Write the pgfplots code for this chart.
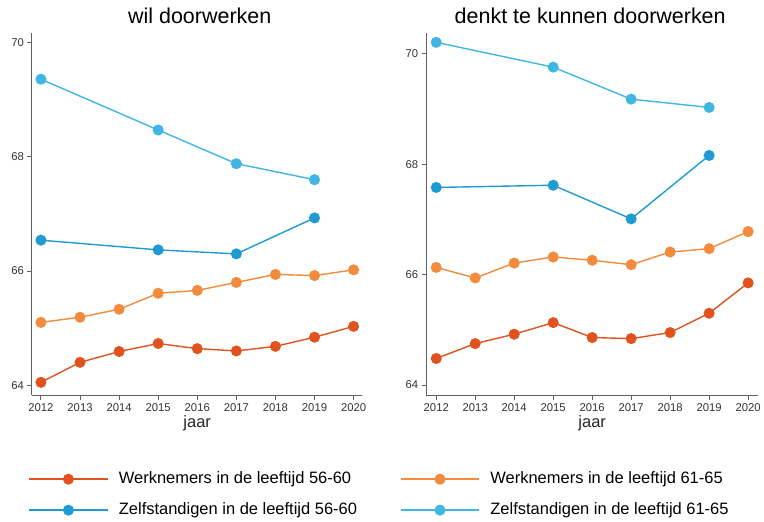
\documentclass[border=0pt]{standalone}
\usepackage{pgfplots}
\pgfplotsset{compat=1.18}
\usepackage{fontspec}
\setmainfont{Liberation Sans}
\definecolor{wA}{HTML}{E0531F}
\definecolor{wB}{HTML}{F28C3C}
\definecolor{zA}{HTML}{1E9BD2}
\definecolor{zB}{HTML}{40B6E3}
\definecolor{axgray}{HTML}{606060}
\pgfplotsset{
  myaxis/.style={
    scale only axis,
    anchor=south west,
    axis x line*=bottom, axis y line*=left,
    axis line style={draw=axgray, line width=1pt, -},
    tick style={draw=axgray, line width=0.9pt},
    tick align=outside,
    major tick length=4.5pt,
    xtick={2012,2013,...,2020},
    ytick={64,66,68,70},
    /pgf/number format/1000 sep={},
    /pgf/number format/assume math mode=true,
    ticklabel style={font=\fontsize{11.3}{12}\selectfont, text=black!80},
    every axis plot/.append style={line width=1.4pt, mark=*, mark size=4.8pt},
    legend style={draw=none, fill=none, font=\fontsize{16.5}{18}\selectfont,
      row sep=15pt, inner sep=0pt, outer sep=0pt,
      nodes={inner sep=0pt, text height=12pt, text depth=4pt},
      cells={anchor=west}, column sep=10pt},
    legend image code/.code={
      \draw[#1,mark=none, line width=2pt] (0pt,0pt) -- (79pt,0pt);
      \draw[#1, only marks] plot coordinates {(39.5pt,0pt)};
    },
  }
}
\begin{document}
\begin{tikzpicture}[x=1pt,y=1pt]
\path (0,0) rectangle (764,522);
% left panel
\begin{axis}[myaxis, at={(32pt,126pt)}, width=330.7pt, height=363pt,
  xmin=2011.77, xmax=2020.22, ymin=63.82, ymax=70.17,
  legend style={at={(axis description cs:-0.012,-0.209)}, anchor=north west}]
\addplot[color=wA, mark options={fill=wA, draw=wA}] coordinates {
 (2012,64.05) (2013,64.40) (2014,64.59) (2015,64.73) (2016,64.64)
 (2017,64.60) (2018,64.68) (2019,64.84) (2020,65.03)};
\addlegendentry{Werknemers in de leeftijd 56-60}
\addplot[color=wB, mark options={fill=wB, draw=wB}, forget plot] coordinates {
 (2012,65.10) (2013,65.19) (2014,65.33) (2015,65.61) (2016,65.66)
 (2017,65.80) (2018,65.94) (2019,65.92) (2020,66.02)};
\addplot[color=zA, mark options={fill=zA, draw=zA}] coordinates {
 (2012,66.54) (2015,66.37) (2017,66.30) (2019,66.93)};
\addlegendentry{Zelfstandigen in de leeftijd 56-60}
\addplot[color=zB, mark options={fill=zB, draw=zB}, forget plot] coordinates {
 (2012,69.36) (2015,68.47) (2017,67.88) (2019,67.60)};
\end{axis}
% right panel
\begin{axis}[myaxis, at={(426.7pt,126pt)}, width=332.6pt, height=363pt,
  xmin=2011.74, xmax=2020.26, ymin=63.81, ymax=70.38,
  legend style={at={(axis description cs:-0.08,-0.209)}, anchor=north west}]
\addplot[color=wA, mark options={fill=wA, draw=wA}, forget plot] coordinates {
 (2012,64.48) (2013,64.75) (2014,64.92) (2015,65.13) (2016,64.86)
 (2017,64.84) (2018,64.95) (2019,65.30) (2020,65.85)};
\addplot[color=wB, mark options={fill=wB, draw=wB}] coordinates {
 (2012,66.13) (2013,65.94) (2014,66.21) (2015,66.32) (2016,66.26)
 (2017,66.18) (2018,66.41) (2019,66.47) (2020,66.78)};
\addlegendentry{Werknemers in de leeftijd 61-65}
\addplot[color=zA, mark options={fill=zA, draw=zA}, forget plot] coordinates {
 (2012,67.58) (2015,67.62) (2017,67.01) (2019,68.16)};
\addplot[color=zB, mark options={fill=zB, draw=zB}] coordinates {
 (2012,70.21) (2015,69.76) (2017,69.18) (2019,69.03)};
\addlegendentry{Zelfstandigen in de leeftijd 61-65}
\end{axis}
\node[anchor=base, font=\fontsize{21.5}{24}\selectfont] at (200,498) {wil doorwerken};
\node[anchor=base, font=\fontsize{21.5}{24}\selectfont] at (591,498) {denkt te kunnen doorwerken};
\node[anchor=base, font=\fontsize{16.5}{18}\selectfont, text=black!85] at (197.5,94) {jaar};
\node[anchor=base, font=\fontsize{16.5}{18}\selectfont, text=black!85] at (593,94) {jaar};
\end{tikzpicture}
\end{document}
